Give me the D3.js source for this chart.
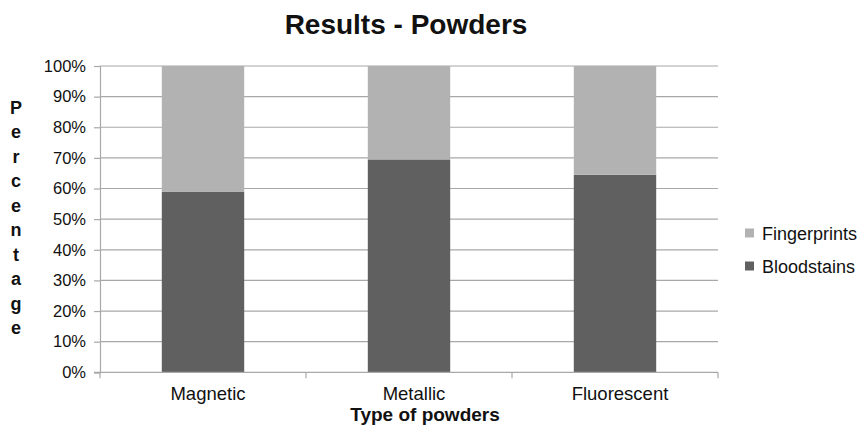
<!DOCTYPE html>
<html>
<head>
<meta charset="utf-8">
<script src="https://cdn.jsdelivr.net/npm/d3@7"></script>
<style>
  body { margin: 0; background: #fff; }
  svg { font-family: "Liberation Sans", Arial, Helvetica, sans-serif; }
</style>
</head>
<body>
<svg id="chart" width="860" height="428"></svg>
<script>
// Powder types and percentage split per type
const categories = ["Magnetic", "Metallic", "Fluorescent"];
const bloodstains = [59, 69.5, 64.5];
const fingerprints = [41, 30.5, 35.5];
const seriesNames = ["Fingerprints", "Bloodstains"];
const seriesColors = ["#b2b2b2", "#606060"];
const yTicks = [0, 10, 20, 30, 40, 50, 60, 70, 80, 90, 100];

const svg = d3.select("#chart");
const margin = { left: 100, right: 142, top: 66, bottom: 55.7 };
const W = 860, H = 428;

const x = d3.scaleBand()
  .domain(categories)
  .range([margin.left, W - margin.right])
  .paddingInner(0.6)
  .paddingOuter(0.3);

const y = d3.scaleLinear()
  .domain([0, 100])
  .range([H - margin.bottom, margin.top]);

// Horizontal gridlines
svg.append("g")
  .selectAll("line")
  .data(yTicks.slice(1))
  .join("line")
  .attr("x1", margin.left)
  .attr("x2", W - margin.right)
  .attr("y1", d => y(d))
  .attr("y2", d => y(d))
  .attr("stroke", "#a8a8a8")
  .attr("stroke-width", 1.2);

// Stacked bars
const rows = categories.map((c, i) => ({ cat: c, Bloodstains: bloodstains[i], Fingerprints: fingerprints[i] }));
const stack = d3.stack().keys(["Bloodstains", "Fingerprints"])(rows);
const color = d3.scaleOrdinal().domain(seriesNames).range(seriesColors);

svg.append("g")
  .selectAll("g")
  .data(stack)
  .join("g")
  .attr("fill", d => color(d.key))
  .selectAll("rect")
  .data(d => d)
  .join("rect")
  .attr("x", d => x(d.data.cat))
  .attr("width", x.bandwidth())
  .attr("y", d => y(d[1]))
  .attr("height", d => y(d[0]) - y(d[1]));

// Y axis
const yAxis = svg.append("g")
  .attr("transform", `translate(${margin.left},0)`)
  .call(d3.axisLeft(y).tickValues(yTicks).tickFormat(d => d + "%").tickSize(6).tickPadding(8));
yAxis.select(".domain").attr("stroke", "#a8a8a8").attr("stroke-width", 1.2);
yAxis.selectAll(".tick line").attr("stroke", "#a8a8a8").attr("stroke-width", 1.2);
yAxis.selectAll(".tick text").attr("font-size", 16.5).attr("fill", "#111")
  .attr("font-family", "'Liberation Sans', Arial, sans-serif");

// X axis with boundary ticks between categories
const xAxisG = svg.append("g").attr("transform", `translate(0,${y(0)})`);
xAxisG.append("line")
  .attr("x1", margin.left - 6).attr("x2", W - margin.right)
  .attr("stroke", "#a8a8a8").attr("stroke-width", 1.2);
const step = x.step();
const bounds = d3.range(categories.length + 1).map(i => margin.left + i * step);
xAxisG.selectAll("line.tk")
  .data(bounds)
  .join("line")
  .attr("class", "tk")
  .attr("x1", d => d).attr("x2", d => d)
  .attr("y1", 0).attr("y2", 6)
  .attr("stroke", "#a8a8a8").attr("stroke-width", 1.2);
xAxisG.selectAll("text")
  .data(categories)
  .join("text")
  .attr("x", d => x(d) + x.bandwidth() / 2 + 5)
  .attr("y", 28)
  .attr("text-anchor", "middle")
  .attr("font-size", 18.5)
  .attr("fill", "#111")
  .text(d => d);

// Title
svg.append("text")
  .attr("x", 406).attr("y", 34)
  .attr("text-anchor", "middle")
  .attr("font-size", 28).attr("font-weight", "bold")
  .attr("fill", "#111")
  .text("Results - Powders");

// X axis title
svg.append("text")
  .attr("x", 425).attr("y", 421)
  .attr("text-anchor", "middle")
  .attr("font-size", 19).attr("font-weight", "bold")
  .attr("fill", "#111")
  .text("Type of powders");

// Y axis title, one letter per line
const yTitle = "Percentage".split("");
svg.append("g")
  .selectAll("text")
  .data(yTitle)
  .join("text")
  .attr("x", 16)
  .attr("y", (d, i) => 113.5 + i * 24.5)
  .attr("text-anchor", "middle")
  .attr("font-size", 18).attr("font-weight", "bold")
  .attr("fill", "#111")
  .text(d => d);

// Legend
const legend = svg.append("g")
  .selectAll("g")
  .data(seriesNames)
  .join("g")
  .attr("transform", (d, i) => `translate(745,${228.5 + i * 33})`);
legend.append("rect")
  .attr("width", 9).attr("height", 9)
  .attr("fill", d => color(d));
legend.append("text")
  .attr("x", 17).attr("y", 11)
  .attr("font-size", 18)
  .attr("fill", "#111")
  .text(d => d);
</script>
</body>
</html>
